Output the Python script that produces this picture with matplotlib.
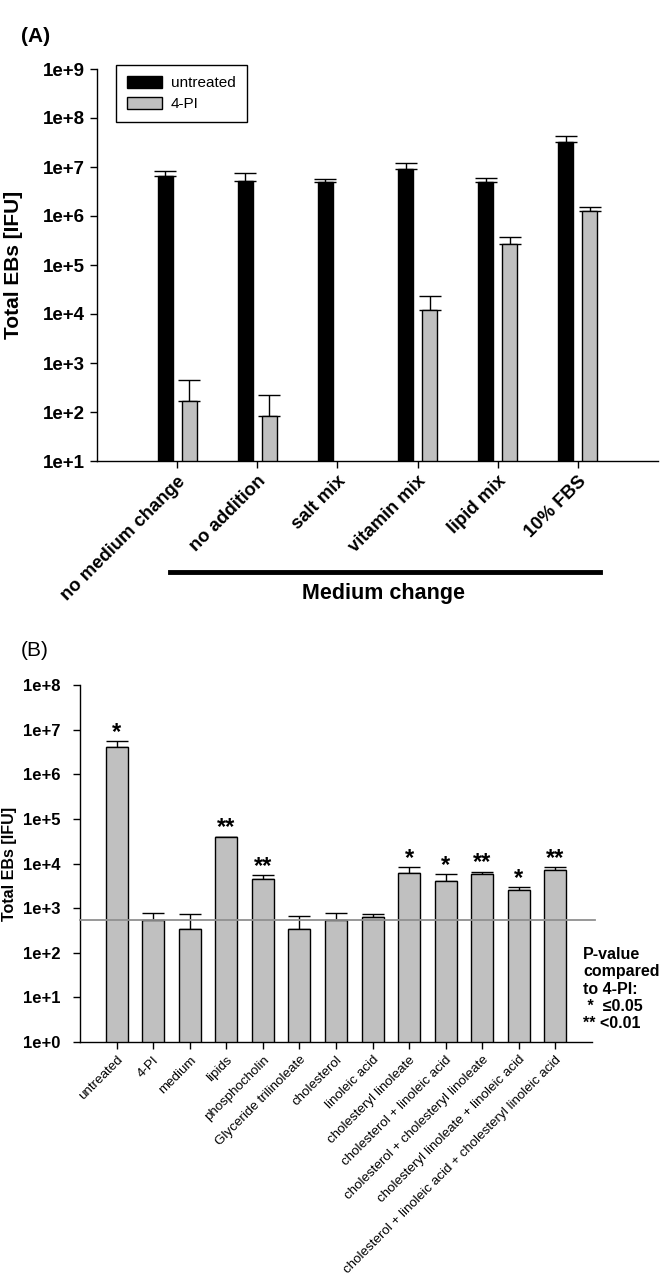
"""
Total EBs bar charts: (A) medium change, (B) lipid supplements
"""

import numpy as np
import matplotlib
matplotlib.use("Agg")
import matplotlib.pyplot as plt
from matplotlib.ticker import FixedLocator, NullLocator
from matplotlib.lines import Line2D

plt.rcParams['font.family'] = ['Liberation Sans', 'DejaVu Sans']

# ---- panel A data ----
groups_a = ['no medium change', 'no addition', 'salt mix', 'vitamin mix', 'lipid mix', '10% FBS']
untreated_a = [6.6e6, 5.3e6, 5.0e6, 9.2e6, 4.9e6, 3.3e7]
untreated_a_top = [8.4e6, 7.5e6, 5.7e6, 1.22e7, 6.1e6, 4.2e7]
pi_a = [170, 84, np.nan, 1.2e4, 2.65e5, 1.27e6]
pi_a_top = [450, 225, np.nan, 2.35e4, 3.7e5, 1.5e6]
ticks_a = [1e1, 1e2, 1e3, 1e4, 1e5, 1e6, 1e7, 1e8, 1e9]
ticklabels_a = ['1e+1', '1e+2', '1e+3', '1e+4', '1e+5', '1e+6', '1e+7', '1e+8', '1e+9']

# ---- panel B data ----
groups_b = ['untreated', '4-PI', 'medium', 'lipids', 'phosphocholin',
            'Glyceride trilinoleate', 'cholesterol', 'linoleic acid',
            'cholesteryl linoleate', 'cholesterol + linoleic acid',
            'cholesterol + cholesteryl linoleate',
            'cholesteryl linoleate + linoleic acid',
            'cholesterol + linoleic acid + cholesteryl linoleic acid']
values_b = [4.1e6, 530, 345, 3.85e4, 4.6e3, 345, 530, 620, 6.1e3, 4.0e3, 5.9e3, 2.6e3, 7.2e3]
values_b_top = [5.5e6, 770, 750, 4.0e4, 5.5e3, 660, 760, 720, 8.4e3, 5.8e3, 6.6e3, 2.95e3, 8.2e3]
stars_b = ['*', '', '', '**', '**', '', '', '', '*', '*', '**', '*', '**']
ref_4pi = 530
ticks_b = [1e0, 1e1, 1e2, 1e3, 1e4, 1e5, 1e6, 1e7, 1e8]
ticklabels_b = ['1e+0', '1e+1', '1e+2', '1e+3', '1e+4', '1e+5', '1e+6', '1e+7', '1e+8']

GREY = '#c0c0c0'
W, H = 661, 1285

fig = plt.figure(figsize=(W / 100, H / 100), dpi=100)


def px_axes(left, top, right, bottom):
    """像素坐标 -> figure 坐标"""
    return fig.add_axes([left / W, 1 - bottom / H, (right - left) / W, (bottom - top) / H])


def style_axes(ax):
    ax.spines['top'].set_visible(False)
    ax.spines['right'].set_visible(False)
    ax.spines['left'].set_linewidth(1.0)
    ax.spines['bottom'].set_linewidth(1.0)
    ax.tick_params(direction='out', length=5, width=1)
    ax.yaxis.set_minor_locator(NullLocator())


# ================= panel A =================
ax1 = px_axes(97, 69, 658, 461)
ax1.set_yscale('log')
x_a = np.arange(1, len(groups_a) + 1)
ua = np.array(untreated_a)
pa = np.array(pi_a)
ax1.bar(x_a - 0.15, ua, width=0.19, color='black', edgecolor='black', linewidth=1,
        label='untreated', zorder=2)
ax1.errorbar(x_a - 0.15, ua, yerr=[np.zeros_like(ua), np.array(untreated_a_top) - ua],
             fmt='none', ecolor='black', elinewidth=1, capsize=8, capthick=1, zorder=1)
ok = ~np.isnan(pa)
ax1.bar(x_a[ok] + 0.15, pa[ok], width=0.19, color=GREY, edgecolor='black', linewidth=1,
        label='4-PI', zorder=2)
ax1.errorbar(x_a[ok] + 0.15, pa[ok],
             yerr=[np.zeros(ok.sum()), np.array(pi_a_top)[ok] - pa[ok]],
             fmt='none', ecolor='black', elinewidth=1, capsize=8, capthick=1, zorder=1)
ax1.set_xlim(0, 7)
ax1.set_ylim(1e1, 1e9)
style_axes(ax1)
ax1.yaxis.set_major_locator(FixedLocator(ticks_a))
ax1.set_yticklabels(ticklabels_a, fontsize=13.5, fontweight='bold')
ax1.set_xticks(x_a)
ax1.set_xticklabels(groups_a, rotation=45, ha='right', va='top', rotation_mode='anchor',
                    fontsize=13.3, fontweight='bold')
ax1.set_ylabel('Total EBs [IFU]', fontsize=15, fontweight='bold')
ax1.yaxis.set_label_coords(-0.132, 0.5)
leg = ax1.legend(loc='upper left', bbox_to_anchor=(0.034, 1.01), fontsize=11,
                 fancybox=False, edgecolor='black', framealpha=1, borderaxespad=0,
                 handlelength=2.3, handleheight=0.85, borderpad=0.7, labelspacing=0.45,
                 handletextpad=0.6)
leg.get_frame().set_linewidth(1.0)

# Medium change 横线和文字
fig.add_artist(Line2D([170 / W, 600 / W], [1 - 572 / H, 1 - 572 / H], color='black', lw=3.5))
fig.text(384 / W, 1 - 593 / H, 'Medium change', ha='center', va='center',
         fontsize=15.5, fontweight='bold')
fig.text(21 / W, 1 - 36 / H, '(A)', ha='left', va='center', fontsize=15, fontweight='bold')

# ================= panel B =================
ax2 = px_axes(80, 685, 592, 1042)
ax2.set_yscale('log')
x_b = np.arange(1, len(groups_b) + 1)
vb = np.array(values_b)
ax2.bar(x_b, vb, width=0.6, color=GREY, edgecolor='black', linewidth=1, zorder=2)
ax2.errorbar(x_b, vb, yerr=[np.zeros_like(vb), np.array(values_b_top) - vb],
             fmt='none', ecolor='black', elinewidth=1, capsize=8, capthick=1, zorder=1)
ax2.axhline(ref_4pi, color='#909090', lw=1.3, zorder=3, xmax=1.005, clip_on=False)
for xi, top, s in zip(x_b, values_b_top, stars_b):
    if s:
        ax2.annotate(s, (xi, top), xytext=(0, -2), textcoords='offset points',
                     ha='center', va='bottom', fontsize=17, fontweight='bold')
ax2.set_xlim(0, 14)
ax2.set_ylim(1e0, 1e8)
style_axes(ax2)
ax2.tick_params(axis='y', pad=9)
ax2.yaxis.set_major_locator(FixedLocator(ticks_b))
ax2.set_yticklabels(ticklabels_b, fontsize=12, fontweight='bold')
ax2.set_xticks(x_b)
ax2.set_xticklabels(groups_b, rotation=45, ha='right', va='top', rotation_mode='anchor',
                    fontsize=9.6)
ax2.set_ylabel('Total EBs [IFU]', fontsize=11.5, fontweight='bold')
ax2.yaxis.set_label_coords(-0.123, 0.5)

fig.text(21 / W, 1 - 650 / H, '(B)', ha='left', va='center', fontsize=15)
fig.text(583 / W, 1 - 989 / H, 'P-value\ncompared\nto 4-PI:\n *  \u22640.05\n** <0.01',
         ha='left', va='center', fontsize=11.5, fontweight='bold', linespacing=1.2)

fig.savefig('out.png', dpi=100)
